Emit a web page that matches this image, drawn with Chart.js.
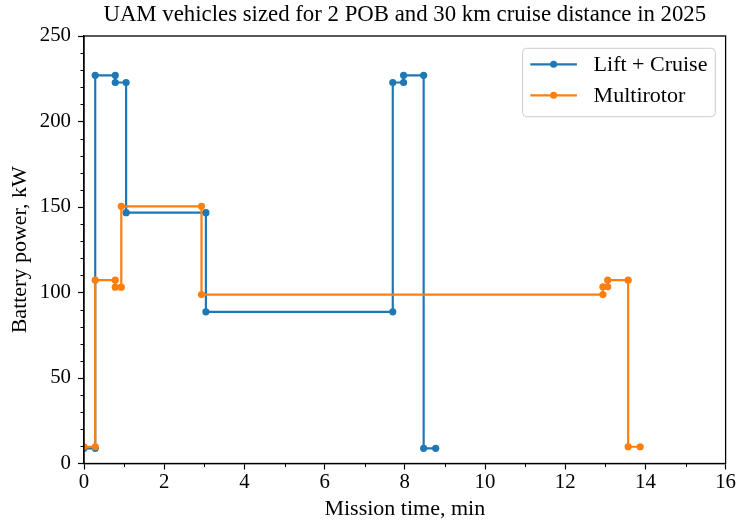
<!DOCTYPE html>
<html>
<head>
<meta charset="utf-8">
<script src="https://cdn.jsdelivr.net/npm/chart.js@4.4.1/dist/chart.umd.min.js"></script>
<style>
  html, body { margin: 0; padding: 0; background: #ffffff; }
  #wrap { width: 739px; height: 522px; }
</style>
</head>
<body>
<div id="wrap"><canvas id="c" width="739" height="522"></canvas></div>
<script>
// Text
const titleText = 'UAM vehicles sized for 2 POB and 30 km cruise distance in 2025';
const xAxisLabel = 'Mission time, min';
const yAxisLabel = 'Battery power, kW';
const seriesNames = ['Lift + Cruise', 'Multirotor'];

// Lift + Cruise mission profile: time (min) and battery power (kW)
const liftCruiseTime  = [0, 0.28, 0.28, 0.78, 0.78, 1.05, 1.05, 3.04, 3.04, 7.70, 7.70, 7.97, 7.97, 8.47, 8.47, 8.77];
const liftCruisePower = [8.9, 8.9, 227, 227, 222.8, 222.8, 146.7, 146.7, 88.7, 88.7, 222.8, 222.8, 227, 227, 8.9, 8.9];

// Multirotor mission profile: time (min) and battery power (kW)
const multirotorTime  = [0, 0.28, 0.28, 0.78, 0.78, 0.93, 0.93, 2.93, 2.93, 12.94, 12.94, 13.06, 13.06, 13.57, 13.57, 13.87];
const multirotorPower = [9.8, 9.8, 107.2, 107.2, 103.1, 103.1, 150.4, 150.4, 98.8, 98.8, 103.3, 103.3, 107.2, 107.2, 9.8, 9.8];

// Axis ranges and tick steps
const xRange = [0, 16], xMajorStep = 2, xMinorStep = 1;
const yRange = [0, 250], yMajorStep = 50, yMinorStep = 10;

const colors = ['#1f77b4', '#ff7f0e'];
const FONT_FAMILY = '"Liberation Serif", "Times New Roman", Times, serif';
const TICK_FS = 20.8;
const LABEL_FS = 22;
const TITLE_FS = 22.8;

const toPoints = (xs, ys) => xs.map((x, i) => ({ x: x, y: ys[i] }));

// Axes frame, minor ticks, title and boxed legend
const decorations = {
  id: 'decorations',
  afterDatasetsDraw(chart) {
    const { ctx, chartArea: a, scales } = chart;
    ctx.save();
    // frame
    ctx.strokeStyle = '#000';
    ctx.lineWidth = 1.3;
    ctx.strokeRect(a.left, a.top, a.right - a.left, a.bottom - a.top);
    // minor ticks
    ctx.lineWidth = 1;
    ctx.beginPath();
    for (let v = xRange[0]; v <= xRange[1] + 1e-9; v += xMinorStep) {
      if (Math.abs(v / xMajorStep - Math.round(v / xMajorStep)) < 1e-9) continue;
      const px = Math.round(scales.x.getPixelForValue(v)) + 0.5;
      ctx.moveTo(px, a.bottom);
      ctx.lineTo(px, a.bottom + 3.5);
    }
    for (let v = yRange[0]; v <= yRange[1] + 1e-9; v += yMinorStep) {
      if (Math.abs(v / yMajorStep - Math.round(v / yMajorStep)) < 1e-9) continue;
      const py = Math.round(scales.y.getPixelForValue(v)) + 0.5;
      ctx.moveTo(a.left, py);
      ctx.lineTo(a.left - 3.5, py);
    }
    ctx.stroke();

    // legend box (upper right)
    const boxW = 192.7, boxH = 68.4;
    const bx = a.right - 10.3 - boxW, by = a.top + 12.3;
    ctx.beginPath();
    ctx.roundRect(bx, by, boxW, boxH, 4);
    ctx.fillStyle = 'rgba(255,255,255,0.8)';
    ctx.fill();
    ctx.strokeStyle = '#cccccc';
    ctx.lineWidth = 1;
    ctx.stroke();
    ctx.font = LABEL_FS + 'px ' + FONT_FAMILY;
    ctx.textBaseline = 'middle';
    ctx.textAlign = 'left';
    chart.data.datasets.slice().sort((p, q) => p.legendIndex - q.legendIndex).forEach((ds, i) => {
      const ly = by + 16 + i * 31;
      const x0 = bx + 7.7, x1 = bx + 54.3;
      ctx.strokeStyle = ds.borderColor;
      ctx.lineWidth = 2.2;
      ctx.beginPath();
      ctx.moveTo(x0, ly);
      ctx.lineTo(x1, ly);
      ctx.stroke();
      ctx.fillStyle = ds.borderColor;
      ctx.beginPath();
      ctx.arc((x0 + x1) / 2, ly, 3.5, 0, Math.PI * 2);
      ctx.fill();
      ctx.fillStyle = '#000';
      ctx.fillText(ds.label, bx + 71, ly + 1);
    });

    // title centred over the plot area
    ctx.font = TITLE_FS + 'px ' + FONT_FAMILY;
    ctx.textAlign = 'center';
    ctx.textBaseline = 'middle';
    ctx.fillStyle = '#000';
    ctx.fillText(titleText, (a.left + a.right) / 2, 15);
    ctx.restore();
  }
};

const commonDataset = {
  showLine: true,
  borderWidth: 2.2,
  pointRadius: 3.6,
  pointHoverRadius: 3.6,
  pointBorderWidth: 0,
  tension: 0,
  clip: 0
};

new Chart(document.getElementById('c'), {
  type: 'scatter',
  data: {
    datasets: [
      Object.assign({}, commonDataset, {
        label: seriesNames[0],
        legendIndex: 0,
        data: toPoints(liftCruiseTime, liftCruisePower),
        borderColor: colors[0],
        backgroundColor: colors[0],
        order: 2
      }),
      Object.assign({}, commonDataset, {
        label: seriesNames[1],
        legendIndex: 1,
        data: toPoints(multirotorTime, multirotorPower),
        borderColor: colors[1],
        backgroundColor: colors[1],
        order: 1
      })
    ]
  },
  options: {
    responsive: false,
    animation: false,
    devicePixelRatio: 1,
    layout: { padding: { top: 36, right: 12, bottom: 0, left: 0 } },
    plugins: {
      legend: { display: false },
      tooltip: { enabled: false },
      title: { display: false }
    },
    scales: {
      x: {
        type: 'linear',
        min: xRange[0],
        max: xRange[1],
        ticks: { stepSize: xMajorStep, color: '#000', padding: 3, font: { family: FONT_FAMILY, size: TICK_FS, lineHeight: 1 } },
        grid: { display: true, drawOnChartArea: false, drawTicks: true, tickLength: 6, tickColor: '#000', tickWidth: 1.2 },
        border: { display: true, color: '#000', width: 1.3 },
        title: { display: true, text: xAxisLabel, color: '#000', font: { family: FONT_FAMILY, size: LABEL_FS, lineHeight: 1.2 }, padding: { top: 0, bottom: 0 } },
        afterFit(scale) { scale.height = 58.5; }
      },
      y: {
        type: 'linear',
        min: yRange[0],
        max: yRange[1],
        ticks: { stepSize: yMajorStep, color: '#000', padding: 7, font: { family: FONT_FAMILY, size: TICK_FS, lineHeight: 1 } },
        grid: { display: true, drawOnChartArea: false, drawTicks: true, tickLength: 6, tickColor: '#000', tickWidth: 1.2 },
        border: { display: true, color: '#000', width: 1.3 },
        title: { display: true, text: yAxisLabel, color: '#000', font: { family: FONT_FAMILY, size: LABEL_FS, lineHeight: 1.2 }, padding: { top: 7, bottom: 0 } },
        afterFit(scale) { scale.width = 84; }
      }
    }
  },
  plugins: [decorations]
});
</script>
</body>
</html>
